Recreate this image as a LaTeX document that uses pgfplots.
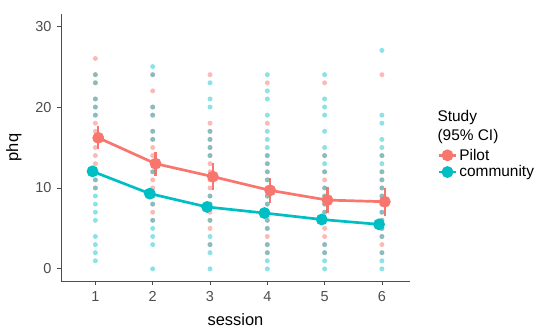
\documentclass[border=0pt]{standalone}
\usepackage{pgfplots}
\pgfplotsset{compat=1.18}
\usepackage{pgfplotstable}
\usepackage{fontspec}
\setmainfont{Liberation Sans}
\definecolor{pilot}{HTML}{F8766D}
\definecolor{comm}{HTML}{00BFC4}
\definecolor{axgray}{HTML}{4D4D4D}

\pgfplotstableread{
x y
1 26
1 24
1 23
1 21
1 20
1 19
1 18
1 17
1 16
1 15
1 14
1 13
1 12
1 11
1 10
2 24
2 22
2 20
2 19
2 17
2 16
2 15
2 14
2 13
2 12
2 11
2 10
2 9
2 8
2 7
2 6
3 24
3 18
3 17
3 16
3 15
3 14
3 13
3 12
3 11
3 10
3 9
3 8
3 7
3 6
3 5
3 3
4 23
4 18
4 14
4 13
4 12
4 11
4 10
4 9
4 8
4 7
4 6
4 5
4 4
4 3
4 2
5 23
5 14
5 12
5 11
5 10
5 9
5 8
5 7
5 6
5 5
5 4
5 3
5 2
6 24
6 14
6 12
6 11
6 10
6 9
6 8
6 7
6 6
6 5
6 4
6 3
6 2
}\pilotpts

\pgfplotstableread{
x y
1 24
1 23
1 21
1 20
1 19
1 16
1 12
1 11
1 10
1 9
1 8
1 7
1 6
1 4
1 3
1 2
1 1
2 25
2 24
2 20
2 19
2 17
2 16
2 12
2 9
2 8
2 6
2 5
2 4
2 3
2 0
3 23
3 21
3 20
3 17
3 16
3 15
3 14
3 9
3 8
3 6
3 4
3 3
3 2
3 0
4 24
4 22
4 21
4 19
4 17
4 16
4 15
4 14
4 13
4 12
4 11
4 10
4 9
4 8
4 7
4 6
4 5
4 3
4 2
4 1
4 0
5 24
5 21
5 20
5 19
5 17
5 15
5 14
5 13
5 12
5 10
5 9
5 8
5 7
5 6
5 3
5 2
5 1
5 0
6 27
6 19
6 18
6 16
6 15
6 14
6 13
6 12
6 11
6 10
6 9
6 8
6 7
6 6
6 5
6 4
6 2
6 1
6 0
}\commpts

\pgfplotstableread{
x y e
1.05 16.2 1.4
2.05 13.0 1.5
3.05 11.4 1.65
4.05 9.7 1.55
5.05 8.5 1.65
6.05 8.3 1.75
}\pilotmean

\pgfplotstableread{
x y e
0.95 12.05 0.7
1.95 9.3 0.65
2.95 7.65 0.6
3.95 6.9 0.6
4.95 6.1 0.6
5.95 5.5 0.6
}\commmean

\begin{document}
\begin{tikzpicture}
\path[use as bounding box] (0,0) rectangle (550bp,330bp);
\begin{axis}[
  at={(61bp,49bp)}, anchor=south west,
  scale only axis, width=349bp, height=267bp,
  xmin=0.4, xmax=6.49, ymin=-1.5, ymax=31.5,
  axis x line*=bottom, axis y line*=left,
  axis line style={draw=axgray, line width=0.8bp, -},
  xtick={1,2,3,4,5,6}, ytick={0,10,20,30},
  tick align=outside, major tick length=4bp,
  tick style={draw=axgray, line width=0.8bp},
  ticklabel style={font=\fontsize{14.5}{16}\selectfont, text=axgray},
  xticklabel style={yshift=-3bp},
  yticklabel style={xshift=-2bp},
  /pgf/number format/assume math mode=true,
  xlabel={session}, ylabel={phq},
  label style={font=\fontsize{16.5}{19}\selectfont},
  x label style={at={(axis description cs:0.5,-0.145)}, anchor=center},
  y label style={at={(axis description cs:-0.135,0.5)}, anchor=center},
  legend style={draw=none, fill=none, at={(rel axis cs:1.07,0.51)}, anchor=north west,
    font=\fontsize{15.5}{18}\selectfont, row sep=0bp},
  legend cell align=left,
  clip=false,
]
\addplot[pilot, only marks, mark=*, mark size=2.5bp, draw opacity=0, fill opacity=0.5,
  mark options={draw=none, fill=pilot, fill opacity=0.5, draw opacity=0}, forget plot]
  table[x=x,y=y] {\pilotpts};
\addplot[comm, only marks, mark=*, mark size=2.5bp, draw opacity=0, fill opacity=0.45,
  mark options={draw=none, fill=comm, fill opacity=0.45, draw opacity=0}, forget plot]
  table[x=x,y=y] {\commpts};

\addplot[pilot, line width=2.7bp, mark=*, mark size=4.5bp, mark options={draw=none, fill=pilot},
  error bars/y dir=both, error bars/y explicit, error bars/error mark=none,
  error bars/error bar style={line width=2.2bp, draw=pilot, solid}]
  table[x=x, y=y, y error=e] {\pilotmean};
\addlegendentry{Pilot}
\addplot[comm, line width=2.7bp, mark=*, mark size=4.5bp, mark options={draw=none, fill=comm},
  error bars/y dir=both, error bars/y explicit, error bars/error mark=none,
  error bars/error bar style={line width=2.2bp, draw=comm, solid}]
  table[x=x, y=y, y error=e] {\commmean};
\addlegendentry{community}
\end{axis}
\node[anchor=west, align=left, font=\fontsize{15.5}{20}\selectfont] at (434bp,203bp) {Study\\(95\% CI)};
\end{tikzpicture}
\end{document}
